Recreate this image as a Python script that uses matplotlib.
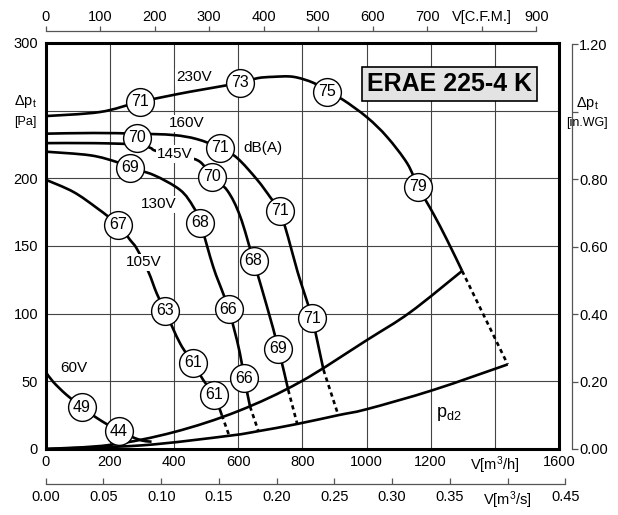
import matplotlib
matplotlib.use('Agg')
import matplotlib.pyplot as plt
from matplotlib.path import Path
from matplotlib.patches import PathPatch

plt.rcParams['font.family'] = ['Liberation Sans', 'DejaVu Sans']
plt.rcParams['mathtext.fontset'] = 'custom'
plt.rcParams['mathtext.rm'] = 'Liberation Sans'
plt.rcParams['mathtext.it'] = 'Liberation Sans:italic'

# fan curves: air flow [m3/h] and total pressure [Pa]
flow_230 = [0, 169, 294, 450, 606, 660, 709, 772, 835, 878, 927, 1002, 1064, 1127, 1161, 1208, 1251, 1298]
dp_230 = [246, 249, 256.5, 264, 270.5, 274, 275, 275, 270.5, 264, 258, 245, 230.6, 211, 193.6, 174, 154.5, 131.6]
flow_160 = [0, 150, 285, 397, 471, 544, 597, 659, 700, 729, 755, 785, 830, 866]
dp_160 = [233, 233.5, 233, 232, 229, 222.5, 215, 199, 186, 176, 157, 131, 96.6, 58.4]
flow_145 = [0, 150, 285, 326, 341, 400, 476, 519, 566, 606, 648, 690, 725.6, 756]
dp_145 = [226, 226, 225, 222.5, 220.5, 217, 213, 201, 191, 172, 139, 105, 74, 43.6]
flow_130 = [0, 139, 222, 263, 336, 419, 460, 482, 522, 553, 570, 596, 611, 619, 637]
dp_130 = [219.7, 217, 212, 207.7, 202.5, 191.4, 179, 167, 134.7, 115, 103.3, 80.6, 63.6, 52.3, 31.3]
flow_105 = [0, 86, 160, 226, 263, 284, 320, 346, 372, 419, 458.5, 491, 525, 549]
dp_105 = [199, 190, 178, 165.6, 154.5, 148, 131, 115, 102, 78, 63.8, 51, 40, 25]
flow_60 = [0, 23, 65, 113, 159, 228, 294, 330]
dp_60 = [57, 49.7, 40, 31, 23, 13.3, 6.7, 5.4]

# system curves
flow_sys = [0, 200, 400, 600, 793, 1002, 1136, 1298]
dp_sys = [0, 3, 12.5, 28, 49.5, 80.6, 101, 131.6]
flow_pd2 = [0, 300, 572, 663, 784, 912, 1002, 1208, 1440]
dp_pd2 = [0, 2.7, 9.8, 13.2, 18.5, 25, 29.5, 43.6, 62.5]

# dotted extensions (from end of solid curve down to the pd2 curve)
dot_flow = [(549, 572), (637, 663), (756, 784), (866, 912), (1298, 1440)]
dot_dp = [(25, 9.8), (31.3, 13.2), (43.6, 18.5), (58.4, 25), (131.6, 62.5)]

# sound level markers dB(A)
mark_flow = [294, 606, 878, 1161, 285, 544, 729, 830, 519, 648, 725.6, 263, 482, 570, 619, 226, 372, 458.5, 525, 113, 228]
mark_dp = [256.5, 270.5, 264, 193.6, 230, 222.5, 176, 96.6, 201, 139, 74, 207.7, 167, 103.3, 52.3, 165.6, 102, 63.8, 40, 31, 13.3]
mark_db = ['71', '73', '75', '79', '70', '71', '71', '71', '70', '68', '69', '69', '68', '66', '66', '67', '63', '61', '61', '49', '44']

volt_labels = ['230V', '160V', '145V', '130V', '105V', '60V']
volt_flow = [463, 440, 403, 352, 305, 88]
volt_dp = [275, 240.6, 218, 181, 138, 60]

m3h_ticks = [0, 200, 400, 600, 800, 1000, 1200, 1400, 1600]
m3h_labels = ['0', '200', '400', '600', '800', '1000', '1200', r'V[m$^{\mathregular{3}}$/h]', '1600']
pa_ticks = [0, 50, 100, 150, 200, 250, 300]
pa_labels = ['0', '50', '100', '150', '200', '', '300']
cfm_ticks = [0, 100, 200, 300, 400, 500, 600, 700, 800, 900]
cfm_labels = ['0', '100', '200', '300', '400', '500', '600', '700', 'V[C.F.M.]', '900']
m3s_ticks = [0.0, 0.05, 0.10, 0.15, 0.20, 0.25, 0.30, 0.35, 0.40, 0.45]
m3s_labels = ['0.00', '0.05', '0.10', '0.15', '0.20', '0.25', '0.30', '0.35', r'V[m$^{\mathregular{3}}$/s]', '0.45']
inwg_ticks = [0.0, 0.2, 0.4, 0.6, 0.8, 1.0, 1.2]
inwg_labels = ['0.00', '0.20', '0.40', '0.60', '0.80', '', '1.20']


def smooth_curve(ax, xs, ys, **kw):
    # smooth line through the read points (Catmull-Rom drawn as cubic Bezier)
    pts = list(zip(xs, ys))
    ext = [pts[0]] + pts + [pts[-1]]
    verts = [pts[0]]
    codes = [Path.MOVETO]
    for i in range(1, len(ext) - 2):
        p0, p1, p2, p3 = ext[i - 1], ext[i], ext[i + 1], ext[i + 2]
        c1 = (p1[0] + (p2[0] - p0[0]) / 6, p1[1] + (p2[1] - p0[1]) / 6)
        c2 = (p2[0] - (p3[0] - p1[0]) / 6, p2[1] - (p3[1] - p1[1]) / 6)
        verts += [c1, c2, p2]
        codes += [Path.CURVE4] * 3
    ax.add_patch(PathPatch(Path(verts, codes), fill=False, **kw))


W, H = 618, 515
x0, x1, y0, y1 = 45.7, 559, 43, 449
fig = plt.figure(figsize=(W / 100, H / 100), dpi=100)
ax = fig.add_axes([x0 / W, 1 - y1 / H, (x1 - x0) / W, (y1 - y0) / H])
ax.set_xlim(0, 1600)
ax.set_ylim(0, 300)
ax.set_xticks(m3h_ticks)
ax.set_xticklabels(m3h_labels)
ax.set_yticks(pa_ticks)
ax.set_yticklabels(pa_labels)
ax.tick_params(length=0, labelsize=10.5)
ax.tick_params(axis='x', pad=4)
ax.tick_params(axis='y', pad=5.5)
ax.grid(True, color='#444444', lw=0.8)
ax.set_axisbelow(True)
for s in ax.spines.values():
    s.set_linewidth(2.2)

lw = 1.9
for fx, fy in [(flow_230, dp_230), (flow_160, dp_160), (flow_145, dp_145),
               (flow_130, dp_130), (flow_105, dp_105), (flow_60, dp_60),
               (flow_sys, dp_sys), (flow_pd2, dp_pd2)]:
    smooth_curve(ax, fx, fy, edgecolor='black', lw=lw, zorder=3, capstyle='butt')
for fx, fy in zip(dot_flow, dot_dp):
    ax.plot(fx, fy, color='black', lw=lw, ls=(0, (1.6, 1.4)), zorder=3)

ax.scatter(mark_flow, mark_dp, s=400, facecolor='white', edgecolor='black', lw=1.0, zorder=5)
for fx, fy, t in zip(mark_flow, mark_dp, mark_db):
    ax.text(fx, fy, t, ha='center', va='center', fontsize=11.5, zorder=6)

for t, fx, fy in zip(volt_labels, volt_flow, volt_dp):
    ax.text(fx, fy, t, ha='center', va='center', fontsize=11, zorder=4,
            bbox=dict(boxstyle='square,pad=0.1', fc='white', ec='none'))
ax.text(676, 222.5, 'dB(A)', ha='center', va='center', fontsize=11, zorder=4)
ax.text(1218, 26, r'p$_{\mathregular{d2}}$', ha='left', va='center', fontsize=13, zorder=4)

ax.text(1259, 270, 'ERAE 225-4 K', ha='center', va='center', fontsize=18, fontweight='bold', zorder=6,
        bbox=dict(boxstyle='square,pad=0.2', fc='#e3e3e3', ec='black', lw=1.2))

# left axis title
fig.text(25 / W, 1 - 101 / H, r'$\Delta$p$_{\mathregular{t}}$', ha='center', va='center', fontsize=10.5)
fig.text(25 / W, 1 - 122 / H, '[Pa]', ha='center', va='center', fontsize=9)

# right axis in.WG
axr = fig.add_axes([572 / W, 1 - y1 / H, 1e-6, (y1 - y0) / H])
axr.set_ylim(0, 300 / 249.089)
for k in ['left', 'top', 'bottom']:
    axr.spines[k].set_visible(False)
axr.spines['right'].set_bounds(0, 1.2)
axr.spines['right'].set_color('#555555')
axr.spines['right'].set_linewidth(0.9)
axr.set_xticks([])
axr.yaxis.tick_right()
axr.set_yticks(inwg_ticks)
axr.set_yticklabels(inwg_labels)
axr.tick_params(axis='y', direction='out', length=4, width=0.9, color='#555555', labelsize=10.5, pad=1)
fig.text(587 / W, 1 - 104 / H, r'$\Delta$p$_{\mathregular{t}}$', ha='center', va='center', fontsize=10.5)
fig.text(587 / W, 1 - 123 / H, '[in.WG]', ha='center', va='center', fontsize=9)

# top axis CFM
axt = fig.add_axes([x0 / W, 1 - 31 / H, (x1 - x0) / W, 1e-6])
axt.set_xlim(0, 1600 / 1.69901)
for k in ['left', 'right', 'bottom']:
    axt.spines[k].set_visible(False)
axt.spines['top'].set_bounds(0, 900)
axt.spines['top'].set_color('#555555')
axt.spines['top'].set_linewidth(0.9)
axt.set_yticks([])
axt.xaxis.tick_top()
axt.set_xticks(cfm_ticks)
axt.set_xticklabels(cfm_labels)
axt.tick_params(axis='x', direction='out', length=3.5, width=0.9, color='#555555', labelsize=10.5, pad=1.5)

# bottom axis m3/s
axb = fig.add_axes([x0 / W, 1 - 484 / H, 0.45 * 3600 * (x1 - x0) / 1600 / W, 1e-6])
axb.set_xlim(0, 0.45)
for k in ['left', 'right', 'top']:
    axb.spines[k].set_visible(False)
axb.spines['bottom'].set_bounds(0, 0.45)
axb.spines['bottom'].set_color('#555555')
axb.spines['bottom'].set_linewidth(0.9)
axb.set_yticks([])
axb.set_xticks(m3s_ticks)
axb.set_xticklabels(m3s_labels)
axb.tick_params(axis='x', direction='in', length=4, width=0.9, color='#555555', labelsize=10.5, pad=4)

fig.savefig('out.png', dpi=100)
